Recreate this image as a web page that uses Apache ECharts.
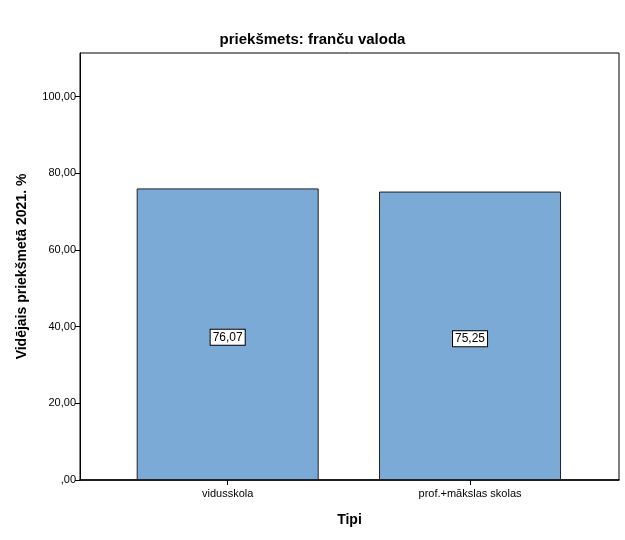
<!DOCTYPE html>
<html>
<head>
<meta charset="utf-8">
<script src="https://cdn.jsdelivr.net/npm/echarts@6/dist/echarts.min.js"></script>
<style>
  html, body { margin: 0; padding: 0; background: #fff; }
  #chart { width: 625px; height: 540px; }
</style>
</head>
<body>
<div id="chart"></div>
<script>
// dati no attēla
var categories = ['vidusskola', 'prof.+mākslas skolas'];
var values = [76.07, 75.25];
var yTicks = [0, 20, 40, 60, 80, 100];

function fmt(v) {
    var s = v.toFixed(2).replace('.', ',');
    return v === 0 ? ',00' : s;
}

var font = 'Liberation Sans, Arial, sans-serif';
var yMax = 111.4;
var myChart = echarts.init(document.getElementById('chart'));
myChart.setOption({
    animation: false,
    title: {
        text: 'priekšmets: franču valoda',
        left: 'center',
        top: 27,
        textStyle: { fontFamily: font, fontSize: 15, fontWeight: 'bold', color: '#000' }
    },
    grid: [
        { left: 80, top: 53, width: 539, height: 427, show: true, borderColor: '#000', borderWidth: 1, backgroundColor: '#fff' },
        { left: 106.5, top: 53, width: 484.7, height: 427 }
    ],
    xAxis: [{
        gridIndex: 0,
        type: 'category',
        data: categories,
        name: 'Tipi',
        nameLocation: 'middle',
        nameGap: 33,
        nameTextStyle: { fontFamily: font, fontSize: 14, fontWeight: 'bold', color: '#000' },
        axisLine: { show: true, lineStyle: { color: '#000', width: 1.5 } },
        axisTick: { show: false },
        axisLabel: { show: false }
    }, {
        gridIndex: 1,
        type: 'category',
        data: categories,
        axisLine: { show: false },
        axisTick: { show: true, alignWithLabel: true, length: 5, lineStyle: { color: '#000' } },
        axisLabel: { fontFamily: font, fontSize: 11, color: '#000', margin: 8 }
    }],
    yAxis: [{
        gridIndex: 0,
        type: 'value',
        min: 0,
        max: yMax,
        interval: 20,
        name: 'Vidējais priekšmetā 2021. %',
        nameLocation: 'middle',
        nameGap: 51,
        nameTextStyle: { fontFamily: font, fontSize: 14, fontWeight: 'bold', color: '#000' },
        axisLine: { show: true, lineStyle: { color: '#000' } },
        axisTick: { show: true, length: 5, customValues: yTicks, lineStyle: { color: '#000' } },
        axisLabel: {
            fontFamily: font, fontSize: 11, color: '#000', margin: 4,
            customValues: yTicks,
            formatter: function (v) { return fmt(v); }
        },
        splitLine: { show: false }
    }, {
        gridIndex: 1,
        type: 'value',
        min: 0,
        max: yMax,
        show: false
    }],
    series: [{
        type: 'bar',
        xAxisIndex: 1,
        yAxisIndex: 1,
        data: values,
        barWidth: 182,
        itemStyle: { color: '#7baad6', borderColor: '#222', borderWidth: 1 },
        label: {
            show: true,
            position: 'inside',
            offset: [0, 3],
            formatter: function (p) { return fmt(p.value); },
            fontFamily: font,
            fontSize: 12,
            color: '#000',
            backgroundColor: '#fff',
            borderColor: '#000',
            borderWidth: 1,
            padding: [2, 2, 1, 2]
        }
    }]
});
</script>
</body>
</html>
